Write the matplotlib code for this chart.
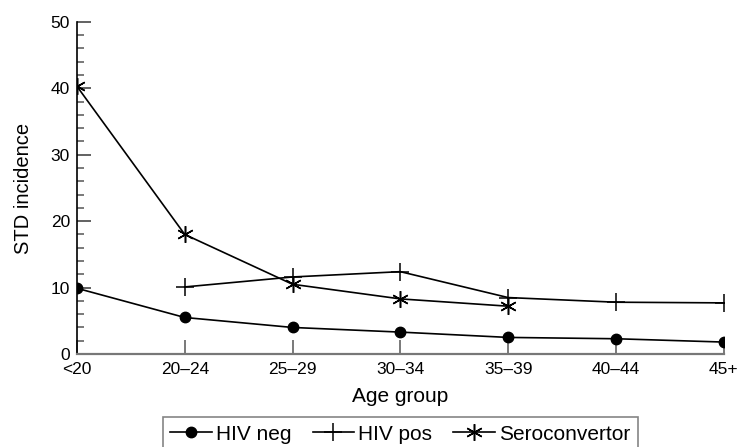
import matplotlib
matplotlib.use('Agg')
import matplotlib.pyplot as plt
from matplotlib.ticker import MultipleLocator

plt.rcParams['font.family'] = ['Liberation Sans', 'DejaVu Sans']

# data
age_groups = ['<20', '20–24', '25–29', '30–34', '35–39', '40–44', '45+']
hiv_neg = [9.9, 5.5, 4.0, 3.3, 2.5, 2.3, 1.8]
hiv_pos = [None, 10.1, 11.6, 12.4, 8.5, 7.8, 7.7]
seroconv = [40.3, 18.0, 10.5, 8.3, 7.2]

x_all = list(range(len(age_groups)))

fig = plt.figure(figsize=(7.4, 4.47), dpi=100)
ax = fig.add_axes([0.104, 0.208, 0.874, 0.743])

ax.plot(x_all, hiv_neg, color='black', lw=1.2, marker='o', markersize=7.5,
        label='HIV neg')
ax.plot(x_all[1:], hiv_pos[1:], color='black', lw=1.2, marker='+',
        markersize=13, markeredgewidth=1.1, label='HIV pos')
ax.plot(x_all[:len(seroconv)], seroconv, color='black', lw=1.2,
        marker=(6, 2, 0), markersize=12, markeredgewidth=1.1,
        label='Seroconvertor')

ax.set_xlim(0, 6)
ax.set_ylim(0, 50)
ax.set_xticks(x_all)
ax.set_xticklabels(age_groups)
ax.yaxis.set_major_locator(MultipleLocator(10))
ax.yaxis.set_minor_locator(MultipleLocator(2))

ax.spines['top'].set_visible(False)
ax.spines['right'].set_visible(False)
ax.spines['left'].set_color('black')
ax.spines['left'].set_linewidth(1.2)
ax.spines['bottom'].set_color('#777777')
ax.spines['bottom'].set_linewidth(1.6)

ax.tick_params(axis='y', which='major', direction='in', length=10, width=1.3,
               color='#555555', labelsize=12.5, pad=5)
ax.tick_params(axis='y', which='minor', direction='in', length=5, width=1.1,
               color='#555555')
ax.tick_params(axis='x', which='major', direction='in', length=10, width=1.1,
               color='#555555', labelsize=12.5, pad=6)

ax.set_xlabel('Age group', fontsize=15, labelpad=7)
ax.set_ylabel('STD incidence', fontsize=14.5, labelpad=13)

leg = fig.legend(loc='upper center', bbox_to_anchor=(0.541, 0.066), ncol=3,
                 fontsize=15, frameon=True, fancybox=False, handlelength=2.0,
                 handletextpad=0.2, columnspacing=1.0, borderpad=0.35,
                 borderaxespad=0)
leg.get_frame().set_edgecolor('#666666')
leg.get_frame().set_linewidth(1.2)

fig.savefig('out.png', dpi=100)
